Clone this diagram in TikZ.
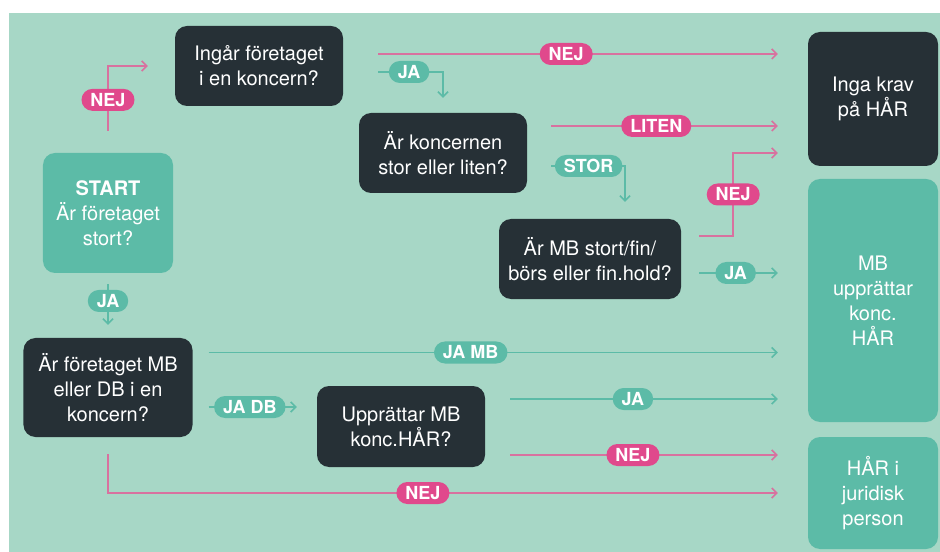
\documentclass[tikz,border=0pt]{standalone}
\usepackage{fontspec}
\setmainfont{TeX Gyre Heros}
\usepackage{tikz}
\usetikzlibrary{arrows.meta}
\definecolor{mintbg}{HTML}{A7D7C6}
\definecolor{boxteal}{HTML}{5CBBA7}
\definecolor{boxdark}{HTML}{263036}
\definecolor{pillpink}{HTML}{E0498C}
\definecolor{linepink}{HTML}{D8719F}

\begin{document}
\begin{tikzpicture}[
    x=1bp, y=-1bp,
    every node/.style={font=\fontsize{20bp}{25bp}\selectfont, text=white},
    question/.style={fill=boxdark, rounded corners=12bp, align=center, inner sep=0pt},
    outcome/.style={fill=boxteal, rounded corners=12bp, align=center, inner sep=0pt},
    pill/.style={fill=#1, rounded corners=11bp, minimum height=22bp,
                 inner xsep=9bp, inner ysep=0pt, text height=12.9bp, text depth=0pt,
                 font=\fontsize{18bp}{18bp}\selectfont\bfseries},
    jaline/.style={draw=boxteal, line width=1.5bp, -{Straight Barb[length=5bp,width=10bp]}},
    nejline/.style={draw=linepink, line width=1.5bp, -{Straight Barb[length=5bp,width=10bp]}}
]
\useasboundingbox (0,0) rectangle (940,552);
\fill[mintbg] (9,13) rectangle (940,552);

\node[outcome, minimum width=130bp, minimum height=120bp] 
    (start) at (108,213) {\textbf{START}\\Är företaget\\stort?};
\node[question, minimum width=168bp, minimum height=80bp] 
    (q1) at (259,66) {Ingår företaget\\i en koncern?};
\node[question, minimum width=168bp, minimum height=80bp] 
    (q2) at (443,153) {Är koncernen\\stor eller liten?};
\node[question, minimum width=182bp, minimum height=80bp] 
    (q3) at (590,259) {Är MB stort/fin/\\börs eller fin.hold?};
\node[question, minimum width=169bp, minimum height=99bp] 
    (q4) at (108,387.5) {Är företaget MB\\eller DB i en\\koncern?};
\node[question, minimum width=168bp, minimum height=81bp] 
    (q5) at (401,426.5) {Upprättar MB\\konc.HÅR?};
\node[question, minimum width=130bp, minimum height=134bp] 
    (r1) at (873,99) {Inga krav\\på HÅR};
\node[outcome, minimum width=130bp, minimum height=243bp] 
    (r2) at (873,300.5) {MB\\upprättar\\konc.\\HÅR};
\node[outcome, minimum width=130bp, minimum height=112bp] 
    (r3) at (873,493) {HÅR i\\juridisk\\person};

\draw[nejline, shorten <=22bp, shorten >=27bp] (start.north) 
    |- node[pill=pillpink, pos=0.305]{NEJ} (q1.west);
\draw[nejline, shorten <=35bp, shorten >=30bp] ([yshift=12bp]q1.east) 
    -- node[pill=pillpink, pos=0.48]{NEJ} ([yshift=12bp]q1.east -| r1.west);
\draw[jaline, shorten <=35bp, shorten >=15bp] ([yshift=-6bp]q1.east) 
    -| node[pill=boxteal, pos=0.33]{JA} (q2.north);
\draw[nejline, shorten <=24bp, shorten >=30bp] ([yshift=27bp]q2.east) 
    -- node[pill=pillpink, pos=0.46]{LITEN} ([yshift=27bp]q2.east -| r1.west);
\draw[jaline, shorten <=24bp, shorten >=17bp] ([yshift=-13bp]q2.east) 
    -| node[pill=boxteal, pos=0.314]{STOR} ([xshift=35bp]q3.north);
\draw[nejline, shorten <=18bp, shorten >=30bp] ([yshift=23bp]q3.east) -- ++(52,0) 
    |- node[pill=pillpink, pos=0.25]{NEJ} ([yshift=-54bp]r1.west);
\draw[jaline, shorten <=18bp, shorten >=30bp] ([yshift=-14bp]q3.east) 
    -- node[pill=boxteal, pos=0.43]{JA} ([yshift=-14bp]q3.east -| r2.west);
\draw[jaline, shorten <=11bp, shorten >=13bp] (start.south) 
    -- node[pill=boxteal, pos=0.43]{JA} (q4.north);
\draw[jaline, shorten <=16bp, shorten >=30bp] ([yshift=35bp]q4.east) 
    -- node[pill=boxteal, pos=0.452]{JA MB} ([yshift=35bp]q4.east -| r2.west);
\draw[jaline, shorten <=16bp, shorten >=20bp] ([yshift=-19.5bp]q4.east) 
    -- node[pill=boxteal, pos=0.46]{JA DB} ([yshift=-19.5bp]q4.east -| q5.west);
\draw[jaline, shorten <=25bp, shorten >=30bp] ([yshift=27.5bp]q5.east) 
    -- node[pill=boxteal, pos=0.458]{JA} ([yshift=27.5bp]q5.east -| r2.west);
\draw[nejline, shorten <=25bp, shorten >=30bp] ([yshift=-28.5bp]q5.east) 
    -- node[pill=pillpink, pos=0.458]{NEJ} ([yshift=-28.5bp]q5.east -| r3.west);
\draw[nejline, shorten <=17bp, shorten >=30bp] (q4.south) 
    |- node[pill=pillpink, pos=0.725]{NEJ} (r3.west);
\end{tikzpicture}
\end{document}
